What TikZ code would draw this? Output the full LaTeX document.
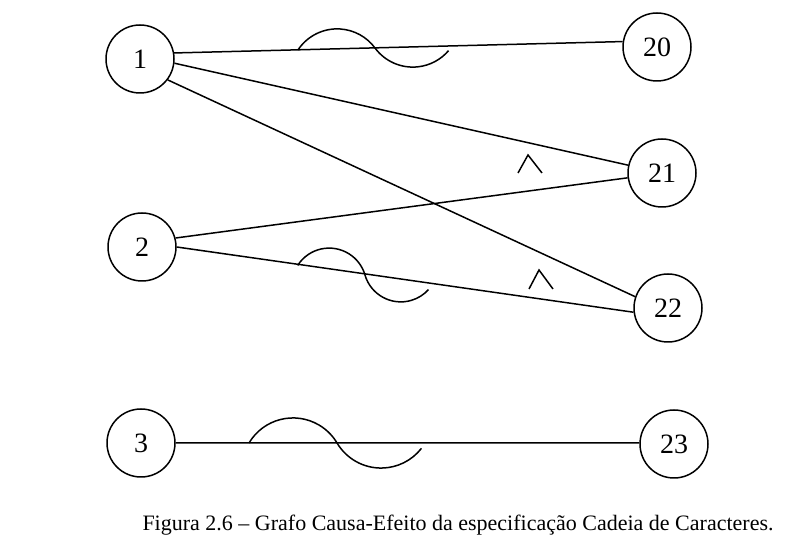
\documentclass[tikz,border=0pt]{standalone}
\usepackage{fontspec}
\setmainfont{Liberation Serif}
\begin{document}
\begin{tikzpicture}[x=1pt,y=1pt,
  vnode/.style={circle,draw,line width=1.5pt,minimum size=68pt,inner sep=0pt,font=\fontsize{28}{28}\selectfont},
  edge/.style={line width=1.5pt},
  notsym/.style={line width=1.5pt},
  andsym/.style={line width=1.5pt}]
\useasboundingbox (0,0) rectangle (809,554);
\node[vnode] (n1) at (140,495) {1};
\node[vnode] (n2) at (142,307) {2};
\node[vnode] (n3) at (141,111) {3};
\node[vnode] (n20) at (657,507) {20};
\node[vnode] (n21) at (662,381) {21};
\node[vnode] (n22) at (668,246) {22};
\node[vnode] (n23) at (674,110) {23};
\draw[edge] (n1.10) -- (n20.171);
\draw[edge] (n1.-7) -- (n21.167);
\draw[edge] (n1.-37) -- (n22.161);
\draw[edge] (n2.15) -- (n21.188);
\draw[edge] (n2.0) -- (n22.187);
\draw[edge] (n3.0) -- (n23.178);
% not symbols (two circular arcs each)
\coordinate (c1) at (375,506);
\coordinate (c2) at (365,279);
\coordinate (c3) at (337,111);
\draw[notsym,shift={(c1)},rotate=1.4] (-77pt,0pt) arc[start angle=145,end angle=35,radius=47pt] arc[start angle=215,end angle=318,radius=47pt];
\draw[notsym,shift={(c2)},rotate=-8.1] (-68pt,0pt) arc[start angle=155.7,end angle=24.3,radius=37.3pt] arc[start angle=204.3,end angle=326,radius=37.3pt];
\draw[notsym,shift={(c3)}] (-88pt,0pt) arc[start angle=149.3,end angle=30.7,radius=51.2pt] arc[start angle=210.7,end angle=322,radius=51.2pt];
% and symbols
\coordinate (a1l) at (518,381);
\coordinate (a1t) at (528,399);
\coordinate (a1r) at (542,381);
\coordinate (a2l) at (529,265);
\coordinate (a2t) at (539,284);
\coordinate (a2r) at (553,265);
\draw[andsym] (a1l) -- (a1t) -- (a1r);
\draw[andsym] (a2l) -- (a2t) -- (a2r);
\node[font=\fontsize{22}{22}\selectfont] (cap) at (458,29) {Figura 2.6 – Grafo Causa-Efeito da especificação Cadeia de Caracteres.};
\end{tikzpicture}
\end{document}
